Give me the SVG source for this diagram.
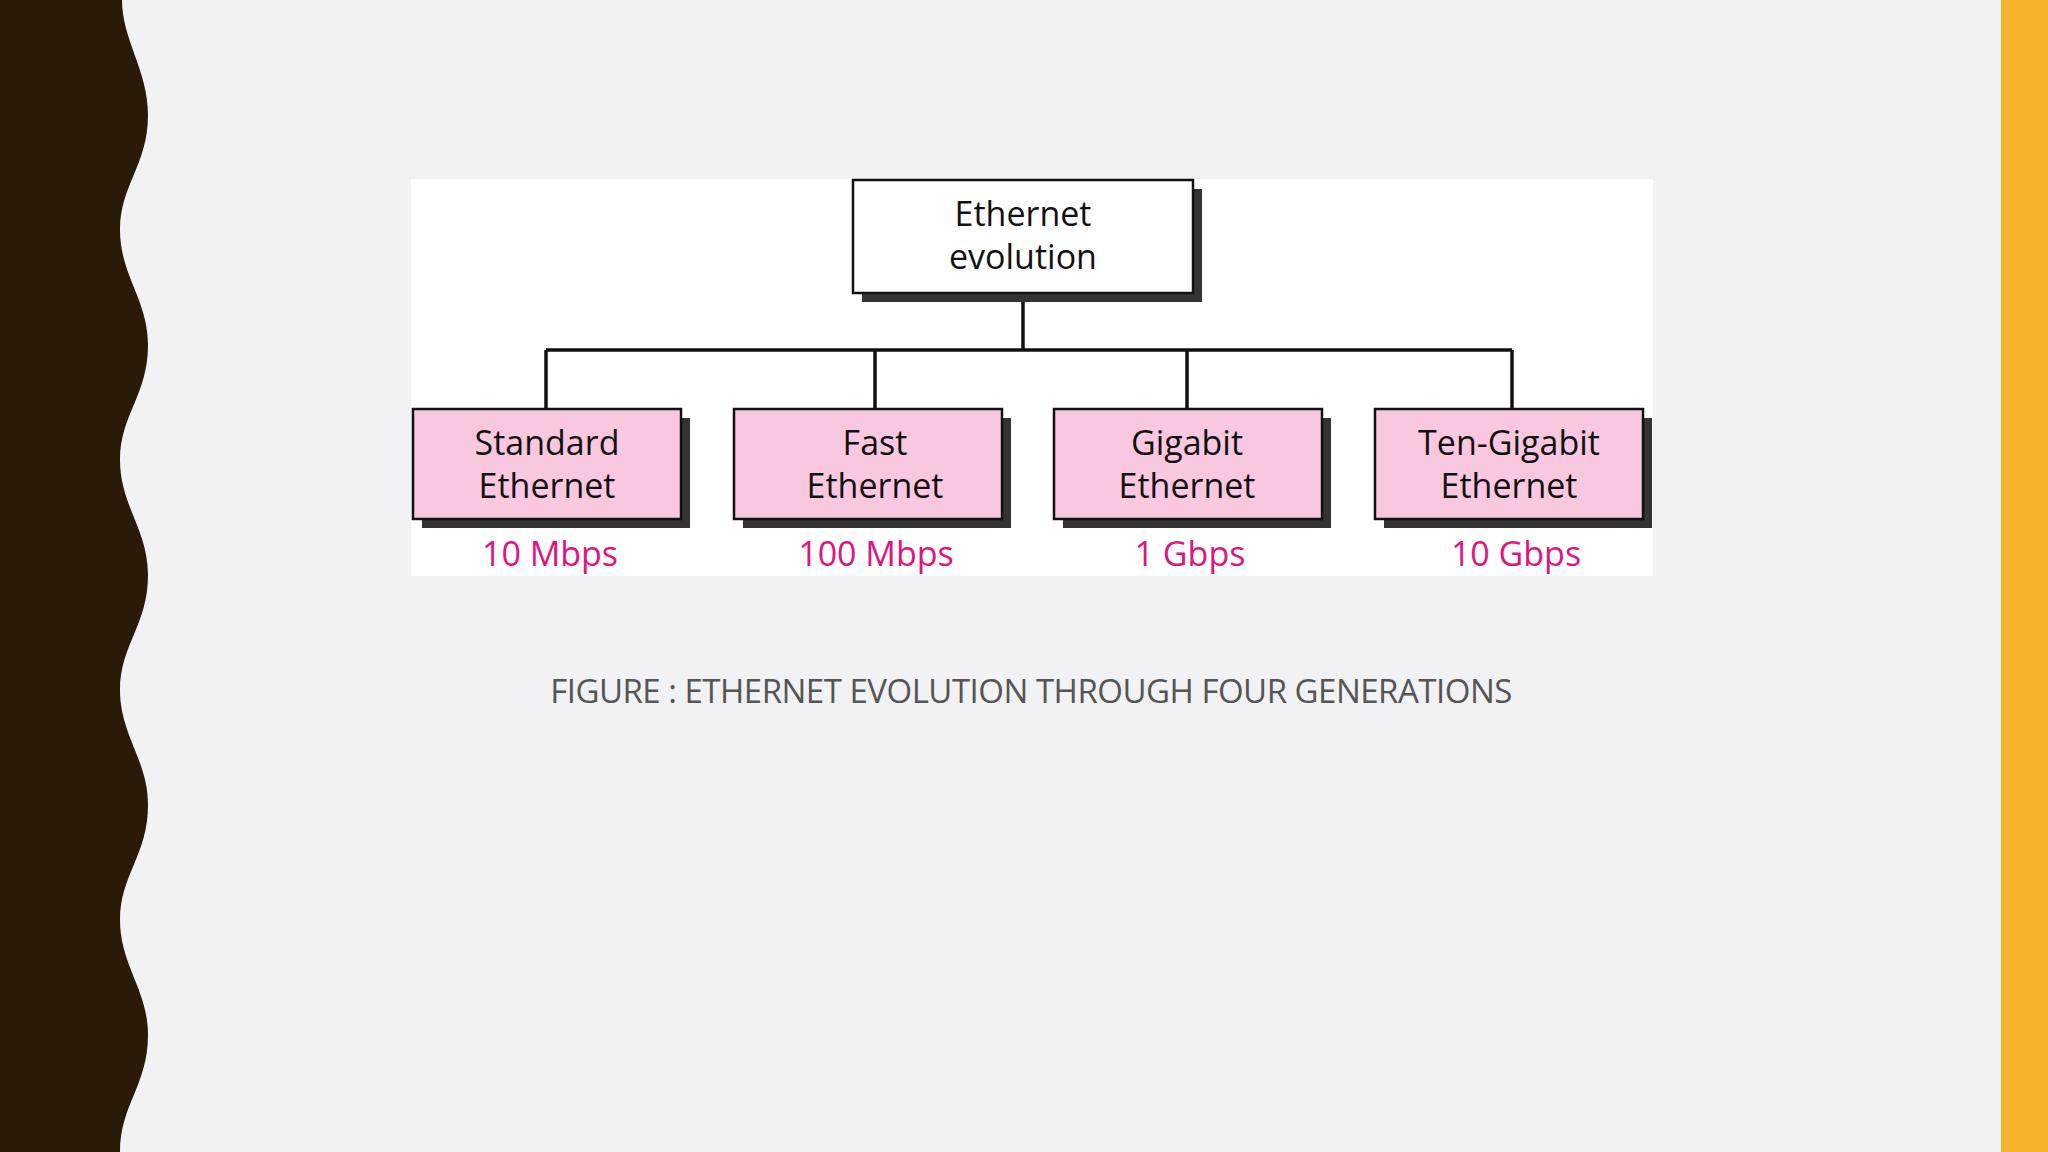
<svg xmlns="http://www.w3.org/2000/svg" width="2048" height="1152" viewBox="0 0 2048 1152">
<style>
.box{stroke:#111;stroke-width:2.5}
.sh{fill:#333}
.t{font-family:"Open Sans","Liberation Sans",sans-serif;font-size:34px;fill:#111;text-anchor:middle}
.r{font-family:"Open Sans","Liberation Sans",sans-serif;font-size:34px;fill:#e0147f;text-anchor:middle}
.c{stroke:#111;stroke-width:3.5;fill:none}
</style>
<rect width="2048" height="1152" fill="#f2f2f4"/>
<path d="M0,0 H122 C122,40 148,70 148,115 C148,165 120,185 120,230 C120,275 148,300 148,345 C148,395 120,415 120,460 C120,505 148,530 148,575 C148,625 120,645 120,690 C120,735 148,760 148,805 C148,855 120,875 120,920 C120,965 148,990 148,1035 C148,1085 120,1105 120,1152 H0 Z" fill="#2a1a08"/>
<rect x="2001" y="0" width="47" height="1152" fill="#f7b32b"/>
<rect x="411" y="179" width="1242" height="397" fill="#ffffff"/>
<g id="connectors">
<path class="c" d="M1023,293 V350 M546,350 H1512 M546,350 V409 M875,350 V409 M1187,350 V409 M1512,350 V409"/>
</g>
<g id="root">
<rect class="sh" x="862" y="189" width="340" height="113"/>
<rect class="box" x="853" y="180" width="340" height="113" fill="#fff"/>
<text class="t" x="1023" y="226">Ethernet</text>
<text class="t" x="1023" y="269">evolution</text>
</g>
<g id="standard">
<rect class="sh" x="422" y="418" width="268" height="110"/>
<rect class="box" x="413" y="409" width="268" height="110" fill="#f9c8e0"/>
<text class="t" x="547" y="455">Standard</text>
<text class="t" x="547" y="498">Ethernet</text>
<text class="r" x="550" y="566">10 Mbps</text>
</g>
<g id="fast">
<rect class="sh" x="743" y="418" width="268" height="110"/>
<rect class="box" x="734" y="409" width="268" height="110" fill="#f9c8e0"/>
<text class="t" x="875" y="455">Fast</text>
<text class="t" x="875" y="498">Ethernet</text>
<text class="r" x="876" y="566">100 Mbps</text>
</g>
<g id="gigabit">
<rect class="sh" x="1063" y="418" width="268" height="110"/>
<rect class="box" x="1054" y="409" width="268" height="110" fill="#f9c8e0"/>
<text class="t" x="1187" y="455">Gigabit</text>
<text class="t" x="1187" y="498">Ethernet</text>
<text class="r" x="1190" y="566">1 Gbps</text>
</g>
<g id="tengigabit">
<rect class="sh" x="1384" y="418" width="268" height="110"/>
<rect class="box" x="1375" y="409" width="268" height="110" fill="#f9c8e0"/>
<text class="t" x="1509" y="455">Ten-Gigabit</text>
<text class="t" x="1509" y="498">Ethernet</text>
<text class="r" x="1516" y="566">10 Gbps</text>
</g>
<text x="1031" y="703" font-family="Open Sans, Liberation Sans, sans-serif" font-size="33" fill="#555" text-anchor="middle" letter-spacing="-0.5">FIGURE : ETHERNET EVOLUTION THROUGH FOUR GENERATIONS</text>
</svg>
